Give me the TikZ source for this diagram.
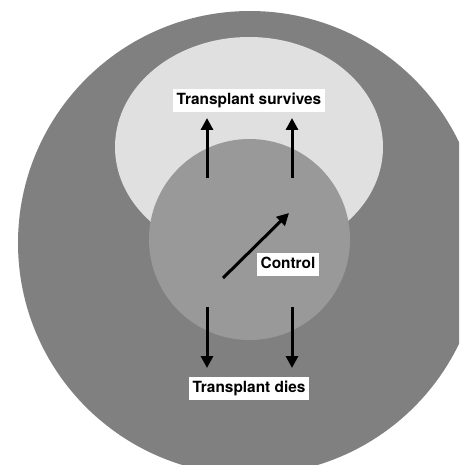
\documentclass[tikz,border=0pt]{standalone}
\usepackage{fontspec}
\setmainfont{TeX Gyre Heros}
\usetikzlibrary{arrows.meta,shapes.geometric}
\definecolor{outergray}{gray}{0.5}
\definecolor{survgray}{gray}{0.88}
\definecolor{ctrlgray}{gray}{0.6}
\tikzset{
  region/.style={inner sep=0pt, outer sep=0pt},
  lbl/.style={fill=white, inner xsep=3.5pt, inner ysep=3.5pt, text height=12pt, text depth=4pt,
    font=\fontsize{15.4}{18}\selectfont\bfseries},
  arr/.style={line width=3pt, -{Triangle[width=12pt,length=12pt]}}
}

\begin{document}
\begin{tikzpicture}[x=1pt,y=-1pt]
  \useasboundingbox (0,0) rectangle (459,465);
  \clip (0,0) rectangle (459,465);
  % regions
  \node[region, circle, fill=outergray, minimum size=464pt] (outer) at (250,243) {};
  \node[region, ellipse, fill=survgray, minimum width=268pt, minimum height=220pt] (surv) at (249,147) {};
  \node[region, circle, fill=ctrlgray, minimum size=201pt] (ctrl) at (249.5,239.5) {};
  % labels
  \node[lbl] (survives) at (249,100.5) {Transplant survives};
  \node[lbl] (control) at (288,264) {Control};
  \node[lbl] (dies) at (249,388) {Transplant dies};
  % arrow ends
  \coordinate (upLs) at (207,178); \coordinate (upLe) at (207,118);
  \coordinate (upRs) at (292,178); \coordinate (upRe) at (292,118);
  \coordinate (dnLs) at (207,307); \coordinate (dnLe) at (207,368);
  \coordinate (dnRs) at (292,307); \coordinate (dnRe) at (292,368);
  \coordinate (diag) at (223,278); \coordinate (diage) at (289,213);
  \draw[arr] (upLs) -- (upLe);
  \draw[arr] (upRs) -- (upRe);
  \draw[arr] (dnLs) -- (dnLe);
  \draw[arr] (dnRs) -- (dnRe);
  \draw[arr] (diag) -- (diage);
\end{tikzpicture}
\end{document}
